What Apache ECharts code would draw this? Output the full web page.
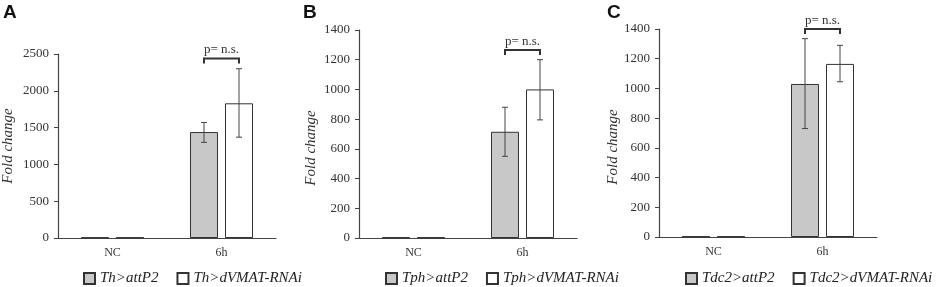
<!DOCTYPE html>
<html>
<head>
<meta charset="utf-8">
<script src="https://cdn.jsdelivr.net/npm/echarts@6/dist/echarts.min.js"></script>
<style>
  html, body { margin: 0; padding: 0; background: #fff; }
  #main { width: 941px; height: 287px; }
</style>
</head>
<body>
<div id="main"></div>
<script>
// data
var categories = ['NC', '6h'];
var panelLetters = ['A', 'B', 'C'];
var yMax = [2500, 1400, 1400];
var yStep = [500, 200, 200];

var namesA = ['Th>attP2', 'Th>dVMAT-RNAi'];
var namesB = ['Tph>attP2', 'Tph>dVMAT-RNAi'];
var namesC = ['Tdc2>attP2', 'Tdc2>dVMAT-RNAi'];

var thAttP2 = [6, 1440];
var thRnai = [6, 1830];
var tphAttP2 = [4, 715];
var tphRnai = [4, 1000];
var tdcAttP2 = [4, 1030];
var tdcRnai = [4, 1165];

// error bars [category index, low, high]
var thAttP2Err = [[1, 1300, 1570]];
var thRnaiErr = [[1, 1370, 2300]];
var tphAttP2Err = [[1, 550, 880]];
var tphRnaiErr = [[1, 795, 1200]];
var tdcAttP2Err = [[1, 730, 1335]];
var tdcRnaiErr = [[1, 1045, 1290]];

// significance bracket height per panel
var bracketLevel = [2440, 1265, 1400];
var bracketText = 'p= n.s.';

var chart = echarts.init(document.getElementById('main'));

var BAR_W = 28;
var HALF = 17.5; // half of bar width + gap
var serif = '"Liberation Serif", "DejaVu Serif", serif';
var axisColor = '#444';

var grids = [
    { left: 57, top: 54, width: 219, bottom: 49 },
    { left: 359, top: 30, width: 218, bottom: 49 },
    { left: 659, top: 29, width: 218, bottom: 50 }
];

function errSeries(idx, data, side) {
    return {
        type: 'custom',
        xAxisIndex: idx,
        yAxisIndex: idx,
        z: 5,
        silent: true,
        data: data,
        encode: { x: 0, y: [1, 2] },
        renderItem: function (params, api) {
            var lo = api.coord([api.value(0), api.value(1)]);
            var hi = api.coord([api.value(0), api.value(2)]);
            var cx = lo[0] + side * HALF;
            var st = { stroke: '#444', lineWidth: 1 };
            return {
                type: 'group',
                children: [
                    { type: 'line', shape: { x1: cx, y1: lo[1], x2: cx, y2: hi[1] }, style: st },
                    { type: 'line', shape: { x1: cx - 3, y1: lo[1], x2: cx + 3, y2: lo[1] }, style: st },
                    { type: 'line', shape: { x1: cx - 3, y1: hi[1], x2: cx + 3, y2: hi[1] }, style: st }
                ]
            };
        }
    };
}

function bracketSeries(idx) {
    return {
        type: 'custom',
        xAxisIndex: idx,
        yAxisIndex: idx,
        z: 5,
        silent: true,
        clip: false,
        data: [[1, bracketLevel[idx]]],
        renderItem: function (params, api) {
            var p = api.coord([api.value(0), api.value(1)]);
            var x1 = p[0] - HALF, x2 = p[0] + HALF, y = p[1];
            return {
                type: 'group',
                children: [
                    { type: 'polyline', shape: { points: [[x1, y + 5], [x1, y], [x2, y], [x2, y + 5]] },
                      style: { stroke: '#333', lineWidth: 2, fill: null } },
                    { type: 'text', style: { text: bracketText, x: p[0], y: y - 2, align: 'center', verticalAlign: 'bottom',
                      fill: '#333', font: '13px ' + serif } }
                ]
            };
        }
    };
}

function barSeries(idx, name, data, color) {
    return {
        name: name,
        type: 'bar',
        xAxisIndex: idx,
        yAxisIndex: idx,
        data: data,
        barWidth: BAR_W,
        barGap: '25%',
        itemStyle: { color: color, borderColor: '#333', borderWidth: 1 }
    };
}

var xAxes = [], yAxes = [], legends = [], series = [];
var allNames = [namesA, namesB, namesC];
var grey = [thAttP2, tphAttP2, tdcAttP2];
var white = [thRnai, tphRnai, tdcRnai];
var greyErr = [thAttP2Err, tphAttP2Err, tdcAttP2Err];
var whiteErr = [thRnaiErr, tphRnaiErr, tdcRnaiErr];
var legendLeft = [83, 385, 685];
var letterX = [3, 303, 607];
var nameGaps = [42, 40, 37];
var namePad = [[0, 0, 0, 0], [0, 28, 0, 0], [0, 28, 0, 0]];

for (var i = 0; i < 3; i++) {
    xAxes.push({
        type: 'category',
        gridIndex: i,
        data: categories,
        axisLine: { lineStyle: { color: axisColor, width: 1.2 } },
        axisTick: { length: 4, lineStyle: { color: axisColor } },
        axisLabel: { color: '#333', fontFamily: serif, fontSize: 12, margin: 9 }
    });
    yAxes.push({
        type: 'value',
        gridIndex: i,
        min: 0,
        max: yMax[i],
        interval: yStep[i],
        name: 'Fold change',
        nameLocation: 'middle',
        nameGap: nameGaps[i],
        nameTextStyle: { fontFamily: serif, fontStyle: 'italic', fontSize: 15, color: '#333', padding: namePad[i] },
        splitLine: { show: false },
        axisLine: { show: true, lineStyle: { color: axisColor, width: 1.2 } },
        axisTick: { show: true, length: 4, lineStyle: { color: axisColor } },
        axisLabel: { color: '#333', fontFamily: serif, fontSize: 13, margin: 9,
                     formatter: function (v) { return String(v); } }
    });
    legends.push({
        left: legendLeft[i],
        top: 271,
        width: 300,
        padding: 0,
        itemWidth: 11,
        itemHeight: 11,
        itemGap: 18,
        icon: 'rect',
        data: allNames[i],
        textStyle: { fontFamily: serif, fontStyle: 'italic', fontSize: 15, color: '#222' }
    });
    series.push(barSeries(i, allNames[i][0], grey[i], '#c8c8c8'));
    series.push(barSeries(i, allNames[i][1], white[i], '#ffffff'));
    series.push(errSeries(i, greyErr[i], -1));
    series.push(errSeries(i, whiteErr[i], 1));
    series.push(bracketSeries(i));
}

var option = {
    animation: false,
    grid: grids,
    xAxis: xAxes,
    yAxis: yAxes,
    legend: legends,
    graphic: panelLetters.map(function (t, i) {
        return {
            type: 'text',
            left: letterX[i],
            top: 3,
            style: { text: t, font: 'bold 19px "Liberation Sans", Arial, sans-serif', fill: '#111' }
        };
    }),
    series: series
};
chart.setOption(option);
</script>
</body>
</html>
